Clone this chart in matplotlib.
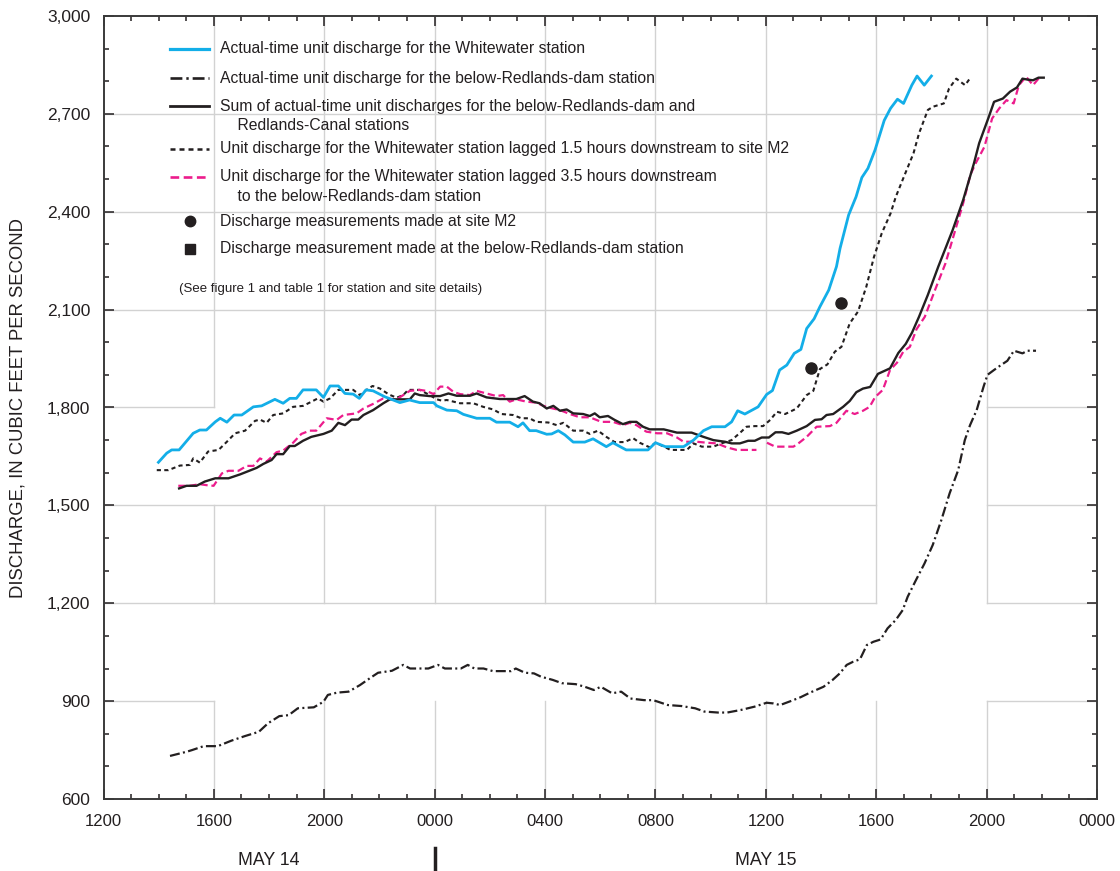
import numpy as np
import matplotlib
matplotlib.use('Agg')
import matplotlib.pyplot as plt
from matplotlib.lines import Line2D
from matplotlib.ticker import FuncFormatter, MultipleLocator

plt.rcParams['font.family'] = ['Liberation Sans', 'DejaVu Sans']

# hours after 1200 on May 14, discharge in cubic feet per second
wwHours = [1.99, 2.29, 2.47, 2.74, 3.25, 3.49, 3.73, 4.05, 4.23, 4.47, 4.73, 5.01, 5.43, 5.73,
           6.21, 6.51, 6.75, 6.99, 7.23, 7.71, 7.97, 8.21, 8.51, 8.75, 9.05, 9.27, 9.51, 9.77,
           10.19, 10.74, 11.09, 11.46, 11.96, 12.08, 12.44, 12.80, 13.04, 13.52, 14.00, 14.24,
           14.72, 15.02, 15.20, 15.44, 15.68, 16.06, 16.24, 16.48, 16.72, 17.02, 17.44, 17.74,
           18.22, 18.46, 18.94, 19.73, 20.00, 20.36, 21.02, 21.38, 21.74, 22.04, 22.52, 22.76,
           22.98, 23.24, 23.72, 24.03, 24.24, 24.50, 24.76, 25.03, 25.27, 25.48, 25.75, 25.96,
           26.28, 26.56, 26.69, 27.00, 27.27, 27.48, 27.70, 27.96, 28.29, 28.52, 28.77, 28.99,
           29.29, 29.48, 29.74, 30.00]
wwFlow = [1632, 1660, 1670, 1670, 1721, 1731, 1731, 1756, 1767, 1755, 1777, 1777, 1802, 1805,
          1825, 1813, 1828, 1828, 1854, 1854, 1831, 1866, 1866, 1843, 1841, 1828, 1854, 1851,
          1833, 1815, 1823, 1815, 1815, 1805, 1792, 1790, 1779, 1767, 1767, 1755,
          1755, 1741, 1753, 1729, 1729, 1718, 1719, 1729, 1716, 1694, 1694, 1704,
          1680, 1692, 1670, 1670, 1692, 1680, 1680, 1700, 1729, 1741, 1741, 1756,
          1790, 1780, 1802, 1840, 1852, 1915, 1930, 1966, 1978, 2042, 2072, 2109,
          2160, 2232, 2288, 2390, 2446, 2505, 2533, 2590, 2680, 2717, 2745, 2732,
          2788, 2816, 2788, 2816]

damHours = [2.41, 3.02, 3.21, 3.63, 4.14, 4.64, 5.13, 5.63, 5.96, 6.37, 6.71, 7.04, 7.62, 7.97,
            8.13, 8.46, 8.88, 9.29, 9.70, 9.95, 10.45, 10.86, 11.11, 11.77, 12.12, 12.37, 12.95,
            13.20, 13.44, 13.77, 14.11, 14.77, 14.94, 15.27, 15.60, 15.85, 16.28, 16.61, 17.11,
            17.44, 17.77, 18.02, 18.43, 18.76, 19.09, 19.59, 19.92, 20.45, 20.94, 21.44, 21.77,
            22.27, 22.60, 23.10, 23.59, 24.03, 24.27, 24.52, 24.93, 25.26, 25.60, 26.09, 26.42,
            26.68, 26.93, 27.17, 27.41, 27.66, 27.90, 28.16, 28.41, 28.71, 28.96, 29.14, 29.44,
            29.75, 30.05, 30.36, 30.66, 30.97, 31.21, 31.40, 31.64, 31.89, 32.03, 32.27, 32.52,
            32.75, 32.99, 33.30, 33.48, 33.79]
damFlow = [732, 745, 750, 762, 762, 779, 793, 806, 832, 854, 857, 878, 881, 898,
           919, 926, 929, 949, 973, 987, 993, 1011, 1000, 1000, 1011, 1000, 1000,
           1011, 1000, 1000, 992, 992, 1000, 987, 985, 975, 965, 955, 952,
           944, 934, 944, 924, 929, 908, 903, 903, 888, 885, 878, 868,
           865, 865, 873, 883, 895, 893, 888, 901, 912, 926, 944, 965,
           985, 1011, 1021, 1028, 1072, 1082, 1089, 1123, 1149, 1179, 1220, 1271,
           1322, 1379, 1455, 1537, 1608, 1700, 1746, 1792, 1864, 1900, 1915, 1930,
           1943, 1974, 1966, 1974, 1974]

sumHours = [2.74, 3.01, 3.37, 3.67, 4.05, 4.53, 4.95, 5.25, 5.55, 5.79, 6.09, 6.27, 6.51, 6.75,
            6.93, 7.23, 7.53, 7.97, 8.27, 8.51, 8.75, 8.99, 9.23, 9.42, 9.77, 10.14, 10.38,
            10.74, 11.10, 11.28, 11.46, 11.82, 12.20, 12.50, 12.80, 13.28, 13.52, 13.88, 14.36,
            14.96, 15.26, 15.56, 15.80, 16.06, 16.30, 16.54, 16.78, 17.02, 17.38, 17.62, 17.80,
            17.98, 18.28, 18.52, 18.82, 19.07, 19.31, 19.55, 19.79, 20.30, 20.78, 21.31, 21.74,
            22.10, 22.52, 22.76, 23.06, 23.36, 23.60, 23.85, 24.11, 24.35, 24.59, 24.82, 25.12,
            25.48, 25.78, 26.02, 26.20, 26.44, 26.80, 27.04, 27.28, 27.52, 27.78, 28.06, 28.50,
            28.80, 29.07, 29.30, 29.55, 29.87, 30.25, 30.77, 31.15, 31.54, 31.73, 32.08, 32.27,
            32.59, 32.85, 33.10, 33.30, 33.49, 33.68, 33.88, 34.07]
sumFlow = [1552, 1560, 1560, 1573, 1583, 1583, 1595, 1605, 1615, 1627, 1639, 1657, 1657, 1682,
           1682, 1698, 1710, 1719, 1729, 1753, 1746, 1763, 1763, 1777, 1792, 1813, 1825,
           1825, 1825, 1843, 1838, 1835, 1835, 1843, 1836, 1836, 1843, 1831, 1826,
           1826, 1835, 1818, 1813, 1797, 1805, 1790, 1794, 1782, 1780, 1774, 1782,
           1770, 1774, 1762, 1749, 1756, 1756, 1741, 1733, 1733, 1723, 1723, 1710,
           1700, 1695, 1690, 1690, 1698, 1698, 1708, 1708, 1724, 1724, 1719, 1729,
           1743, 1762, 1764, 1777, 1780, 1802, 1820, 1847, 1858, 1863, 1903, 1920,
           1967, 1995, 2030, 2078, 2145, 2232, 2344, 2436, 2548, 2610, 2691, 2737,
           2747, 2768, 2781, 2808, 2805, 2803, 2811, 2811]

lag15Hours = [1.93, 2.35, 2.77, 3.13, 3.25, 3.49, 3.79, 4.17, 4.47, 4.77, 5.13, 5.49, 5.67, 5.91,
              6.15, 6.51, 6.87, 7.23, 7.47, 7.77, 7.97, 8.21, 8.51, 9.05, 9.29, 9.53, 9.75,
              10.02, 10.34, 10.62, 10.86, 11.04, 11.46, 11.82, 12.08, 12.26, 12.44, 12.92, 13.40,
              13.76, 14.12, 14.42, 14.84, 15.14, 15.44, 15.68, 16.12, 16.42, 16.66, 17.02, 17.38,
              17.62, 17.92, 18.22, 18.52, 18.88, 19.19, 19.43, 19.79, 20.00, 20.36, 20.54, 21.14,
              21.38, 21.68, 22.10, 22.39, 22.76, 23.06, 23.30, 23.60, 23.90, 24.16, 24.40, 24.70,
              25.12, 25.48, 25.72, 25.96, 26.23, 26.50, 26.74, 27.04, 27.34, 27.64, 27.92, 28.20,
              28.52, 28.71, 29.03, 29.35, 29.55, 29.87, 30.06, 30.45, 30.64, 30.90, 31.22, 31.39]
lag15Flow = [1608, 1608, 1622, 1624, 1644, 1631, 1665, 1670, 1695, 1721, 1729, 1759, 1763, 1753,
             1777, 1782, 1802, 1805, 1815, 1828, 1818, 1828, 1854, 1854, 1838, 1854, 1866,
             1858, 1840, 1830, 1838, 1854, 1854, 1838, 1825, 1821, 1823, 1813, 1813,
             1802, 1794, 1780, 1777, 1767, 1767, 1756, 1754, 1746, 1753, 1729, 1729,
             1719, 1729, 1710, 1694, 1694, 1706, 1692, 1678, 1692, 1678, 1670, 1670,
             1690, 1680, 1680, 1690, 1700, 1722, 1741, 1743, 1743, 1762, 1787, 1780,
             1797, 1838, 1851, 1918, 1932, 1971, 1986, 2058, 2094, 2170, 2262, 2334,
             2395, 2446, 2513, 2579, 2640, 2712, 2722, 2732, 2778, 2808, 2788, 2808]

# NaN leaves the short break in the record just before 1200 on May 15
lag35Hours = [2.71, 3.13, 3.49, 3.73, 3.99, 4.29, 4.53, 4.89, 5.19, 5.43, 5.67, 5.91, 6.27, 6.51,
              6.87, 7.17, 7.47, 7.71, 8.09, 8.45, 8.69, 9.17, 9.42, 9.77, 10.14, 10.62, 11.10,
              11.46, 11.70, 11.96, 12.20, 12.44, 12.68, 12.92, 13.28, 13.52, 13.88, 14.24, 14.48,
              14.72, 14.96, 15.32, 15.68, 15.94, 16.18, 16.54, 16.90, 17.26, 17.62, 18.04, 18.46,
              18.82, 19.07, 19.31, 19.67, 20.06, 20.42, 20.78, 21.02, 21.50, 21.86, 22.22, 22.58,
              22.94, 23.66, 23.82, 24.04, 24.34, 25.00, 25.18, 25.48, 25.84, 26.32, 26.56, 26.92,
              27.22, 27.52, 27.76, 27.96, 28.24, 28.50, 28.75, 28.98, 29.22, 29.46, 29.76, 30.13,
              30.51, 30.83, 31.15, 31.41, 31.60, 31.92, 32.20, 32.46, 32.72, 32.98, 33.17, 33.43,
              33.68, 33.94]
lag35Flow = [1560, 1560, 1565, 1562, 1560, 1598, 1606, 1606, 1621, 1621, 1644, 1634, 1663, 1668,
             1692, 1719, 1729, 1729, 1767, 1762, 1777, 1782, 1797, 1811, 1828, 1825, 1851,
             1854, 1851, 1841, 1864, 1864, 1848, 1841, 1838, 1851, 1843, 1835, 1838,
             1818, 1825, 1818, 1815, 1805, 1799, 1792, 1780, 1770, 1770, 1756, 1756,
             1746, 1753, 1746, 1726, 1721, 1721, 1708, 1695, 1695, 1692, 1690, 1678,
             1670, 1670, np.nan, 1692, 1680, 1680, 1690, 1710, 1741, 1743, 1753, 1790,
             1780, 1790, 1802, 1832, 1854, 1915, 1937, 1971, 1986, 2040, 2078, 2160,
             2242, 2334, 2426, 2513, 2548, 2599, 2686, 2717, 2742, 2732, 2788, 2814,
             2788, 2814]

measHours = [25.63, 26.72]
measFlow = [1920, 2120]

tickLabels = ['1200', '1600', '2000', '0000', '0400', '0800', '1200', '1600', '2000', '0000']
dayLabels = ['MAY 14', 'MAY 15']

legendText = [
    ['Actual-time unit discharge for the Whitewater station'],
    ['Actual-time unit discharge for the below-Redlands-dam station'],
    ['Sum of actual-time unit discharges for the below-Redlands-dam and',
     '    Redlands-Canal stations'],
    ['Unit discharge for the Whitewater station lagged 1.5 hours downstream to site M2'],
    ['Unit discharge for the Whitewater station lagged 3.5 hours downstream',
     '    to the below-Redlands-dam station'],
    ['Discharge measurements made at site M2'],
    ['Discharge measurement made at the below-Redlands-dam station'],
]

ink = '#231f20'
cyan = '#13aee8'
magenta = '#ec1c8c'
gridColor = '#d2d2d2'

fig = plt.figure(figsize=(11.2, 8.71), dpi=100)
ax = fig.add_axes([103.5 / 1120, 72 / 871, 993.5 / 1120, 783 / 871])
ax.set_xlim(0, 36)
ax.set_ylim(600, 3000)

# grid is broken where the curves run, so draw it piece by piece
hGrid = {900: [(0, 4), (32, 36)], 1200: [(0, 28), (32, 36)], 1500: [(0, 28), (32, 36)],
         1800: [(0, 4), (32, 36)], 2100: [(0, 36)], 2400: [(0, 36)], 2700: [(0, 36)]}
vGrid = {4: [(600, 900), (1200, 1500), (1800, 3000)], 8: [(600, 900), (1200, 1500), (1800, 3000)],
         12: [(600, 900), (1200, 1500), (1800, 3000)], 16: [(600, 900), (1200, 1500), (1800, 3000)],
         20: [(600, 900), (1200, 3000)], 24: [(600, 900), (1200, 3000)],
         28: [(600, 900), (1200, 3000)], 32: [(600, 900), (1200, 3000)]}
for yv, spans in hGrid.items():
    for a, b in spans:
        ax.plot([a, b], [yv, yv], color=gridColor, lw=1.0, zorder=0.5)
for xv, spans in vGrid.items():
    for a, b in spans:
        ax.plot([xv, xv], [a, b], color=gridColor, lw=1.0, zorder=0.5)

styles = {
    'ww': dict(color=cyan, lw=2.0, ls='-'),
    'dam': dict(color=ink, lw=1.6, ls=(0, (4.5, 1.5, 0.9, 1.5))),
    'sum': dict(color=ink, lw=1.7, ls='-'),
    'lag15': dict(color=ink, lw=1.5, ls=(0, (2.0, 1.6))),
    'lag35': dict(color=magenta, lw=1.6, ls=(0, (3.3, 1.7))),
}

ax.plot(damHours, damFlow, zorder=3, **styles['dam'])
ax.plot(lag15Hours, lag15Flow, zorder=3, **styles['lag15'])
ax.plot(lag35Hours, lag35Flow, zorder=3, **styles['lag35'])
ax.plot(sumHours, sumFlow, zorder=4, **styles['sum'])
ax.plot(wwHours, wwFlow, zorder=5, **styles['ww'])
ax.plot(measHours, measFlow, 'o', color=ink, ms=8, zorder=6)

ax.set_xticks(np.arange(0, 37, 4))
ax.set_xticklabels(tickLabels)
ax.xaxis.set_minor_locator(MultipleLocator(1))
ax.yaxis.set_major_locator(MultipleLocator(300))
ax.yaxis.set_minor_locator(MultipleLocator(100))
ax.yaxis.set_major_formatter(FuncFormatter(lambda v, p: f'{int(v):,}'))
ax.tick_params(which='both', direction='in', top=True, right=True, colors=ink, width=1.1)
ax.tick_params(which='major', length=7.5)
ax.tick_params(which='minor', length=3.5)
ax.tick_params(axis='x', pad=11, labelsize=12)
ax.tick_params(axis='y', pad=9.5, labelsize=12.5)
for s in ax.spines.values():
    s.set_color('#3a3a3a')
    s.set_linewidth(1.4)

fig.text(18 / 1120, 1 - 408 / 871, 'DISCHARGE, IN CUBIC FEET PER SECOND', rotation=90,
         ha='center', va='center', fontsize=13.3, color=ink)

# day labels under the time axis, split at midnight
xt = ax.get_xaxis_transform()
ax.text(6, -0.078, dayLabels[0], transform=xt, ha='center', va='center', fontsize=12.8, color=ink)
ax.text(24, -0.078, dayLabels[1], transform=xt, ha='center', va='center', fontsize=12.8, color=ink)
ax.add_line(Line2D([12, 12], [-0.0626, -0.093], transform=xt, color=ink, lw=2.5, clip_on=False))


# legend block, placed in pixel units of the figure
def fx(px):
    return px / 1120


def fy(py):
    return 1 - py / 871


rows = [49, 78, 106, 149, 177, 221, 249]
keys = ['ww', 'dam', 'sum', 'lag15', 'lag35']
for i, k in enumerate(keys):
    st = styles[k]
    fig.add_artist(Line2D([fx(170), fx(209)], [fy(rows[i]), fy(rows[i])], transform=fig.transFigure,
                          color=st['color'], lw=st['lw'] + 0.3, ls=st['ls']))
fig.add_artist(Line2D([fx(190)], [fy(rows[5])], transform=fig.transFigure, marker='o',
                      color=ink, ms=7.5, ls='none'))
fig.add_artist(Line2D([fx(190)], [fy(rows[6])], transform=fig.transFigure, marker='s',
                      color=ink, ms=7.5, ls='none'))
for i, lines in enumerate(legendText):
    for j, txt in enumerate(lines):
        fig.text(fx(220), fy(rows[i] + 19 * j), txt, ha='left', va='center',
                 fontsize=11.3, color=ink)
fig.text(fx(179), fy(289), '(See figure 1 and table 1 for station and site details)',
         ha='left', va='center', fontsize=9.5, color=ink)

fig.savefig('out.png', dpi=100, facecolor='w')
